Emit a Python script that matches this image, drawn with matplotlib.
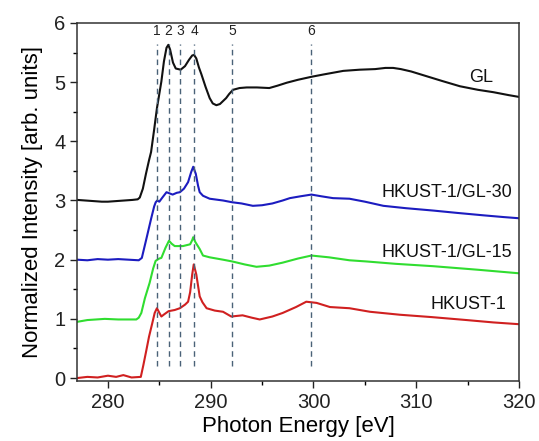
import matplotlib
matplotlib.use("Agg")
import matplotlib.pyplot as plt
from matplotlib.ticker import MultipleLocator

plt.rcParams['font.family'] = ['Liberation Sans', 'DejaVu Sans']

# GL (black)
gl_x = [277.0, 277.8, 278.6, 279.4, 280.0, 280.8, 281.6, 282.4, 282.9, 283.1, 283.4, 283.7, 284.0, 284.2,
        284.5, 284.77, 285.0, 285.2, 285.45, 285.7, 285.88, 286.05, 286.33, 286.6, 287.08, 287.5,
        287.9, 288.2, 288.38, 288.6, 288.85, 289.1, 289.5, 289.9, 290.2, 290.55, 290.9, 291.2,
        291.5, 291.8, 292.17, 292.8, 293.5, 294.5, 295.7, 296.5, 297.4, 298.5, 299.8, 301.0,
        302.9, 304.5, 306.0, 307.0, 307.75, 308.5, 309.5, 311.0, 312.5, 314.25, 316.0, 317.5,
        319.0, 320.0]
gl_y = [3.01, 3.00, 2.99, 2.98, 2.98, 2.99, 3.00, 3.01, 3.02, 3.05, 3.20, 3.45, 3.68, 3.82,
        4.20, 4.56, 4.80, 5.01, 5.35, 5.58, 5.63, 5.55, 5.33, 5.23, 5.21, 5.27,
        5.38, 5.45, 5.46, 5.40, 5.25, 5.13, 4.92, 4.73, 4.64, 4.61, 4.63, 4.68,
        4.73, 4.80, 4.87, 4.90, 4.91, 4.91, 4.90, 4.94, 4.99, 5.04, 5.09, 5.13,
        5.19, 5.21, 5.22, 5.24, 5.24, 5.22, 5.18, 5.10, 5.02, 4.93, 4.87, 4.83,
        4.78, 4.75]

# HKUST-1/GL-30 (blue)
b_x = [277.0, 278.0, 279.0, 280.0, 281.0, 282.0, 283.0, 283.3, 283.74, 284.2, 284.5, 284.65, 284.8, 285.0,
       285.3, 285.7, 286.0, 286.3, 286.7, 287.0, 287.4, 287.8, 288.1, 288.3, 288.55, 288.77, 288.93,
       289.25, 289.9, 291.2, 292.1, 293.0, 294.1, 295.0, 296.0, 297.0, 297.7, 298.7, 299.8, 300.8,
       301.9, 303.5, 305.0, 306.8, 309.0, 311.65, 314.0, 316.5, 318.5, 320.0]
b_y = [2.00, 1.99, 2.01, 2.00, 2.01, 2.00, 1.99, 2.03, 2.35, 2.69, 2.90, 2.97, 3.00, 2.98,
       3.05, 3.14, 3.12, 3.10, 3.13, 3.14, 3.20, 3.31, 3.48, 3.57, 3.45, 3.25, 3.14,
       3.08, 3.03, 3.00, 2.97, 2.95, 2.91, 2.92, 2.95, 3.00, 3.04, 3.07, 3.10, 3.07,
       3.04, 3.03, 2.98, 2.91, 2.87, 2.83, 2.79, 2.75, 2.72, 2.70]

# HKUST-1/GL-15 (green)
g_x = [277.0, 278.0, 279.7, 281.0, 282.76, 283.0, 283.25, 283.6, 284.06, 284.4, 284.64, 285.0, 285.2,
       285.6, 285.94, 286.2, 286.5, 287.3, 288.0, 288.2, 288.3, 288.5, 288.93, 289.25, 289.9,
       291.2, 292.1, 293.3, 294.45, 295.7, 297.0, 298.5, 299.8, 301.5, 303.5, 305.16, 308.0,
       311.65, 316.0, 320.0]
g_y = [0.95, 0.98, 1.00, 0.99, 0.99, 1.02, 1.10, 1.35, 1.61, 1.85, 1.98, 2.02, 2.03,
       2.20, 2.32, 2.27, 2.23, 2.23, 2.26, 2.33, 2.38, 2.30, 2.18, 2.07, 2.04,
       2.00, 1.97, 1.92, 1.88, 1.90, 1.95, 2.02, 2.07, 2.04, 1.99, 1.97, 1.93,
       1.89, 1.83, 1.77]

# HKUST-1 (red)
r_x = [277.0, 278.0, 279.0, 280.0, 280.8, 281.5, 282.3, 283.2, 283.45, 283.74, 284.0, 284.32, 284.55,
       284.77, 284.95, 285.2, 285.5, 285.9, 286.5, 287.0, 287.5, 287.8, 288.0, 288.2, 288.35,
       288.6, 288.93, 289.2, 289.6, 290.4, 291.2, 292.0, 293.1, 294.0, 294.77, 296.0, 297.0,
       298.3, 299.3, 300.3, 301.6, 303.5, 305.5, 308.4, 311.5, 314.9, 317.5, 320.0]
r_y = [0.00, 0.02, 0.01, 0.04, 0.02, 0.05, 0.01, 0.02, 0.22, 0.47, 0.70, 0.93, 1.10,
       1.18, 1.12, 1.04, 1.08, 1.13, 1.15, 1.18, 1.24, 1.29, 1.45, 1.75, 1.92,
       1.75, 1.38, 1.28, 1.18, 1.14, 1.12, 1.04, 1.06, 1.02, 0.99, 1.04, 1.10,
       1.20, 1.29, 1.27, 1.20, 1.18, 1.12, 1.07, 1.03, 0.98, 0.94, 0.91]

series_names = ['GL', 'HKUST-1/GL-30', 'HKUST-1/GL-15', 'HKUST-1']
series_colors = ['#111111', '#1c1cc0', '#30dd30', '#d02020']
label_pos = [(316.3, 5.07), (312.95, 3.14), (312.95, 2.12), (315.05, 1.24)]

peak_pos = [284.8, 285.9, 287.0, 288.4, 292.1, 299.8]
peak_labels = ['1', '2', '3', '4', '5', '6']

fig = plt.figure(figsize=(5.39, 4.41), dpi=100)
ax = fig.add_axes([0.143, 0.136, 0.820, 0.812])

for xs, ys, c in zip([gl_x, b_x, g_x, r_x], [gl_y, b_y, g_y, r_y], series_colors):
    ax.plot(xs, ys, color=c, lw=1.5, solid_joinstyle='round')

for name, (lx, ly) in zip(series_names, label_pos):
    ax.text(lx, ly, name, ha='center', va='center', fontsize=13, color='#111111')

for p, lab in zip(peak_pos, peak_labels):
    ax.plot([p, p], [0.2, 5.65], ls=(0, (4, 3)), color='#4a6278', lw=1.0)
    ax.text(p, 5.87, lab, ha='center', va='center', fontsize=10, color='#222222')

ax.set_xlim(277, 320)
ax.set_ylim(-0.05, 6)
ax.xaxis.set_major_locator(MultipleLocator(10))
ax.xaxis.set_minor_locator(MultipleLocator(5))
ax.yaxis.set_major_locator(MultipleLocator(1))
ax.yaxis.set_minor_locator(MultipleLocator(0.5))
ax.tick_params(which='major', direction='out', length=5, width=1, labelsize=14.5, colors='#222222')
ax.tick_params(which='minor', direction='out', length=3, width=1)
for s in ax.spines.values():
    s.set_linewidth(1.1)
    s.set_color('#333333')
ax.set_xlabel('Photon Energy [eV]', fontsize=16, labelpad=3)
ax.set_ylabel('Normalized Intensity [arb. units]', fontsize=16, labelpad=8)

fig.savefig('out.png', dpi=100)
